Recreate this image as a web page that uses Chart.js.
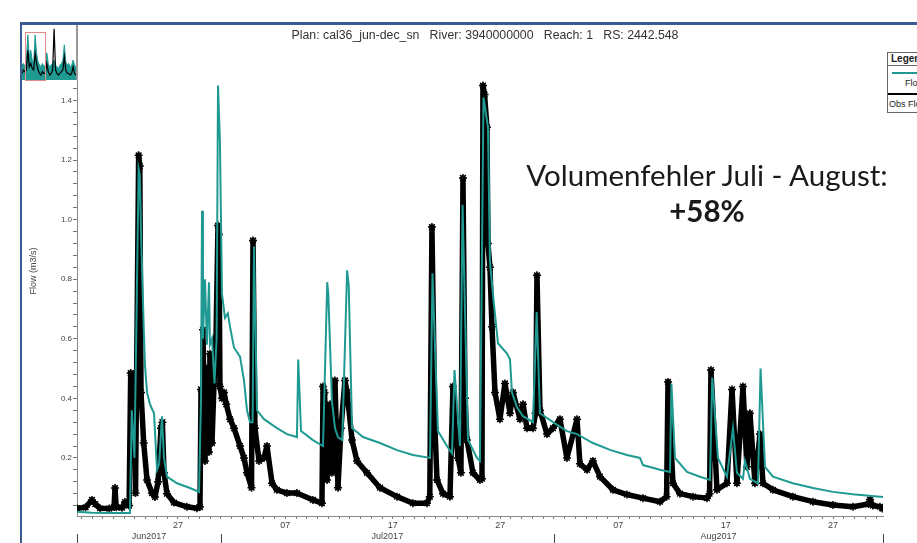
<!DOCTYPE html>
<html>
<head>
<meta charset="utf-8">
<script src="https://cdn.jsdelivr.net/npm/chart.js@4.4.1/dist/chart.umd.min.js"></script>
<style>
  html, body { margin:0; padding:0; background:#fff; }
  body { width:917px; height:543px; position:relative; overflow:hidden; font-family:"Liberation Sans", Arial, sans-serif; }
  #frame { position:absolute; left:20px; top:22px; width:1000px; height:600px; border-left:2px solid #3b5b93; border-top:3px solid #3b5b93; }
  #main { position:absolute; left:0; top:0; }
  #thumbWrap { position:absolute; left:22px; top:27px; width:54px; height:53px; background:#fff; }
  #thumbBox { position:absolute; left:25px; top:32px; width:19px; height:47px; border:1px solid #e58a8a; }
  #thumbBar { position:absolute; left:76px; top:25px; width:2px; height:55px; background:#999; }
  #legendBox { position:absolute; left:887px; top:52px; width:80px; height:59px; border:1px solid #666; background:#fff; font-size:9px; color:#222; }
  #legendBox .hd { height:12px; line-height:12px; border-bottom:1px solid #666; padding-left:3px; font-weight:bold; font-size:10px; }
  #note { position:absolute; left:457px; top:157px; width:500px; text-align:center; font-family:Lato, "Open Sans", sans-serif; color:#1a1a1a; font-size:29.5px; line-height:36px; }
</style>
</head>
<body>
<div id="frame"></div>
<canvas id="main" width="917" height="543"></canvas>
<div id="thumbWrap"><canvas id="thumb" width="54" height="53"></canvas></div>
<div id="thumbBox"></div>
<div id="thumbBar"></div>
<div id="legendBox">
  <div class="hd">Legend</div>
  <div style="position:absolute;left:4px;top:19px;width:80px;height:2px;background:#1f9a93"></div>
  <div style="position:absolute;left:17px;top:25px;color:#222">Flow</div>
  <div style="position:absolute;left:0;top:40px;width:80px;height:2px;background:#000"></div>
  <div style="position:absolute;left:1px;top:46px;color:#222">Obs Flow</div>
</div>
<div id="note">Volumenfehler Juli - August:<br><b>+58%</b></div>

<script>
// days counted from 1 Jun 2017 (0 = Jun 1, 30 = Jul 1, 61 = Aug 1)
const flowDays = [16.6,18.0,20.0,21.53,21.7,21.95,22.34,22.45,22.56,22.81,22.93,23.12,23.4,23.77,24.05,24.25,24.51,24.7,24.98,25.91,27.12,27.96,
  28.15,28.24,28.33,28.52,28.7,28.89,28.98,29.17,29.4,29.6,29.73,29.82,29.91,30.1,30.38,30.65,30.85,31.22,31.78,32.15,32.43,32.71,32.95,33.08,33.36,
  34.01,35.22,36.15,37.08,37.2,37.46,38.57,39.51,39.9,40.0,40.34,40.62,40.9,41.3,41.75,41.9,42.21,43.23,44.81,46.4,47.88,49.47,49.7,50.21,51.05,
  51.52,51.75,52.26,52.5,53.01,53.84,54.12,54.45,54.87,55.05,55.33,55.8,56.64,56.92,57.1,57.57,58.13,59.06,59.4,59.71,60.92,62.22,63.16,64.64,
  66.23,67.81,69.02,69.3,70.88,71.82,71.95,72.28,73.4,74.61,75.54,75.75,76.28,77.12,77.68,78.05,78.61,78.8,79.26,80.01,80.25,80.66,81.4,83.26,
  85.13,86.99,88.85,91.37,91.65];
const flowValues = [0.019,0.016,0.015,0.015,0.36,0.20,1.17,1.15,0.96,0.64,0.51,0.42,0.38,0.35,0.16,0.18,0.34,0.20,0.137,0.115,0.099,0.086,
  0.40,1.03,0.60,0.80,0.58,0.79,0.58,0.60,0.45,0.60,1.45,1.45,1.26,0.75,0.67,0.685,0.64,0.57,0.54,0.46,0.36,0.32,0.32,0.91,0.36,
  0.33,0.30,0.28,0.27,0.53,0.29,0.26,0.24,0.79,0.75,0.39,0.30,0.27,0.26,0.83,0.78,0.30,0.27,0.25,0.226,0.21,0.20,0.82,0.29,0.24,
  0.215,0.495,0.24,1.05,0.26,0.20,0.19,1.41,1.31,0.86,0.75,0.585,0.55,0.53,0.42,0.37,0.34,0.32,0.69,0.35,0.32,0.29,0.28,0.25,
  0.227,0.21,0.20,0.176,0.16,0.153,0.45,0.20,0.153,0.137,0.126,0.47,0.20,0.137,0.30,0.15,0.13,0.19,0.13,0.115,0.50,0.17,0.137,0.115,
  0.099,0.086,0.078,0.07,0.069];

const obsDays = [16.6,17.4,17.99,18.3,18.74,19.6,20.05,20.14,20.25,20.8,21.07,21.45,21.6,21.75,21.9,22.05,22.34,22.45,22.56,22.81,23.12,23.58,
  23.86,24.15,24.42,24.55,24.7,24.98,25.63,26.84,27.77,28.05,28.15,28.24,28.33,28.52,28.7,28.89,28.98,29.17,29.36,29.54,29.73,29.82,29.91,30.1,
  30.29,30.5,30.85,31.22,31.78,32.15,32.43,32.85,32.99,33.17,33.55,34.01,34.29,34.76,35.22,36.15,37.08,38.57,39.41,39.51,39.65,39.88,40.16,
  40.34,40.62,40.9,41.18,41.55,41.75,42.21,42.67,43.6,44.81,46.4,47.88,49.19,49.45,49.65,49.93,50.12,50.68,51.33,51.61,51.8,52.08,52.35,52.54,
  52.73,52.91,53.47,54.12,54.31,54.4,54.55,54.77,54.87,55.05,55.24,55.52,55.98,56.45,56.92,57.2,57.85,58.13,58.5,59.06,59.3,59.43,59.71,
  60.36,60.92,61.57,62.22,63.16,63.43,64.09,64.64,65.3,66.51,67.81,69.3,70.88,71.5,71.63,72.09,72.75,73.96,75.26,75.5,75.63,76.19,77.12,
  77.59,78.05,78.61,78.98,79.26,79.73,80.2,80.47,81.4,83.26,85.13,86.99,88.85,90.3,90.44,90.7,91.37,91.6];
const obsValues = [0.031,0.034,0.059,0.045,0.031,0.030,0.035,0.099,0.034,0.033,0.052,0.040,0.485,0.40,0.48,0.082,1.216,1.18,0.42,0.25,0.126,0.082,
  0.069,0.12,0.30,0.32,0.15,0.08,0.05,0.036,0.031,0.035,0.43,0.25,0.63,0.19,0.50,0.22,0.55,0.25,0.45,0.60,0.98,0.95,0.44,0.40,
  0.42,0.38,0.33,0.30,0.24,0.20,0.15,0.10,0.93,0.30,0.19,0.20,0.24,0.115,0.093,0.082,0.082,0.059,0.048,0.44,0.42,0.126,0.38,
  0.15,0.46,0.10,0.30,0.46,0.42,0.26,0.19,0.15,0.10,0.07,0.048,0.048,0.07,0.975,0.30,0.126,0.08,0.07,0.44,0.30,0.20,0.15,1.14,
  0.40,0.26,0.15,0.126,0.13,1.45,1.42,1.31,0.92,0.84,0.64,0.42,0.33,0.45,0.35,0.42,0.33,0.38,0.30,0.30,0.35,0.813,0.36,
  0.28,0.30,0.33,0.20,0.33,0.18,0.16,0.19,0.137,0.093,0.077,0.065,0.053,0.07,0.455,0.115,0.08,0.07,0.065,0.08,0.495,0.093,0.115,
  0.43,0.115,0.44,0.17,0.35,0.115,0.28,0.115,0.093,0.07,0.053,0.042,0.036,0.045,0.06,0.04,0.036,0.03];

// axis labels
const dayTickDays = [26, 36, 46, 56, 67, 77, 87];
const dayTickLabels = ["27", "07", "17", "27", "07", "17", "27"];
const monthLabels = ["Jun2017", "Jul2017", "Aug2017"];
const monthBounds = [16.6, 30, 61, 91.65];
const yMajorStep = 0.2;

// overview strip (top-left)
const thumbFlow = [0.45,0.5,0.4,0.6,1.36,0.7,0.9,0.6,0.5,1.36,0.8,0.55,0.45,0.4,0.5,0.4,0.45,0.82,0.5,0.4,0.45,0.5,0.6,0.45,0.4,0.35,0.45,0.5,0.6,1.06,0.55,0.45,0.5,0.4,0.45,0.6,0.45,0.4];
const thumbObs = [0.2,0.3,0.25,0.3,0.9,0.4,0.5,0.35,0.3,0.8,0.5,0.3,0.2,0.15,0.25,0.2,0.2,0.5,0.25,0.15,0.2,0.3,1.55,0.3,0.2,0.15,0.2,0.25,0.3,0.7,0.3,0.2,0.2,0.15,0.2,0.4,0.2,0.15];

const TEAL = "#1f9a93";
const tickFont = { family: "Liberation Sans", size: 9 };

// title + month row, drawn on the canvas
const extras = {
  id: "extras",
  afterDraw(chart) {
    const c = chart.ctx, xs = chart.scales.x;
    c.save();
    c.fillStyle = "#333";
    c.font = "12.3px 'Liberation Sans'";
    c.textAlign = "center";
    c.textBaseline = "middle";
    c.fillText("Plan: cal36_jun-dec_sn   River: 3940000000   Reach: 1   RS: 2442.548", 485, 36);
    c.font = "9px 'Liberation Sans'";
    c.fillStyle = "#444";
    for (let i = 0; i < monthLabels.length; i++) {
      const mid = (xs.getPixelForValue(monthBounds[i]) + xs.getPixelForValue(monthBounds[i + 1])) / 2;
      c.fillText(monthLabels[i], mid, 537);
    }
    c.strokeStyle = "#444";
    c.lineWidth = 1;
    monthBounds.forEach(d => {
      const px = Math.round(xs.getPixelForValue(d)) + 0.5;
      c.beginPath(); c.moveTo(px, 534); c.lineTo(px, 543); c.stroke();
    });
    c.restore();
  }
};

new Chart(document.getElementById("main"), {
  type: "line",
  data: {
    datasets: [
      { label: "Flow", data: flowDays.map((d, i) => ({ x: d, y: flowValues[i] })),
        borderColor: TEAL, borderWidth: 2, pointRadius: 0, tension: 0 },
      { label: "Obs Flow", data: obsDays.map((d, i) => ({ x: d, y: obsValues[i] })),
        borderColor: "#000", borderWidth: 5.5, borderJoinStyle: "round", borderCapStyle: "round",
        pointStyle: "star", pointRadius: 4, pointBorderColor: "#000", pointBorderWidth: 1.5, tension: 0 }
    ]
  },
  options: {
    responsive: false,
    animation: false,
    layout: { padding: { top: 26, right: 34, left: 0, bottom: 0 } },
    plugins: { legend: { display: false }, tooltip: { enabled: false } },
    scales: {
      x: {
        type: "linear", min: 16.6, max: 91.65,
        afterFit: s => { s.height = 27; },
        afterBuildTicks: s => {
          const t = [];
          for (let d = 17; d <= 91; d++) t.push({ value: d });
          s.ticks = t;
        },
        grid: { drawOnChartArea: false, tickLength: 3, color: "#777" },
        border: { color: "#888", width: 1 },
        ticks: {
          autoSkip: false, maxRotation: 0, padding: 1, color: "#444", font: tickFont,
          callback: v => { const k = dayTickDays.indexOf(v); return k >= 0 ? dayTickLabels[k] : ""; }
        }
      },
      y: {
        min: 0.005, max: 1.65,
        afterFit: s => { s.width = 77; },
        afterBuildTicks: s => {
          const t = [];
          for (let k = 1; k <= 41; k++) t.push({ value: +(k * 0.04).toFixed(2) });
          s.ticks = t;
        },
        grid: { drawOnChartArea: false, tickLength: 4, color: "#777" },
        border: { color: "#888", width: 1 },
        ticks: {
          autoSkip: false, padding: 1, color: "#444", font: { family: "Liberation Sans", size: 8 },
          callback: v => {
            const r = v / yMajorStep;
            return Math.abs(r - Math.round(r)) < 1e-6 ? v.toFixed(1) : "";
          }
        },
        title: { display: true, text: "Flow (m3/s)", color: "#444",
                 font: { family: "Liberation Sans", size: 9 }, padding: { top: 28 } }
      }
    }
  },
  plugins: [extras]
});

// overview strip
new Chart(document.getElementById("thumb"), {
  type: "line",
  data: {
    labels: thumbFlow.map((_, i) => i),
    datasets: [
      { data: thumbObs, borderColor: "#000", borderWidth: 1.2, pointRadius: 0, tension: 0 },
      { data: thumbFlow, borderColor: TEAL, backgroundColor: TEAL, fill: "origin", borderWidth: 1, pointRadius: 0, tension: 0 }
    ]
  },
  options: {
    responsive: false, animation: false,
    plugins: { legend: { display: false }, tooltip: { enabled: false } },
    layout: { padding: 0 },
    scales: { x: { display: false }, y: { display: false, min: 0, max: 1.6 } }
  }
});
</script>
</body>
</html>
